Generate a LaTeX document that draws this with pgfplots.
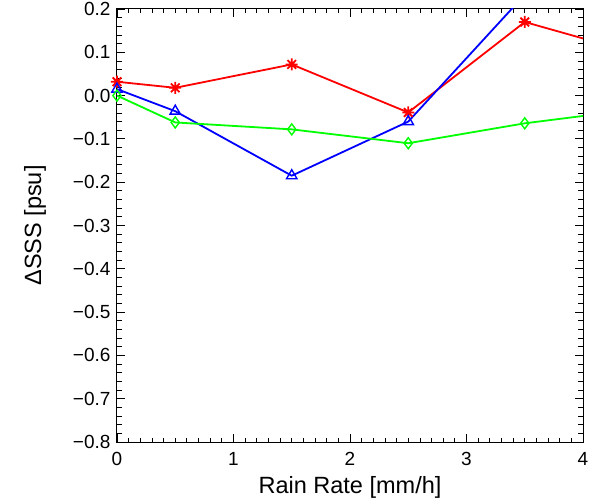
\documentclass[border=0pt]{standalone}
\usepackage{fontspec}
\setmainfont{Liberation Sans}
\usepackage{pgfplots}
\pgfplotsset{compat=1.18}
\pgfdeclareplotmark{idlstar}{%
  \pgfpathmoveto{\pgfqpoint{-\pgfplotmarksize}{0pt}}\pgfpathlineto{\pgfqpoint{\pgfplotmarksize}{0pt}}%
  \pgfpathmoveto{\pgfqpoint{0pt}{-\pgfplotmarksize}}\pgfpathlineto{\pgfqpoint{0pt}{\pgfplotmarksize}}%
  \pgfpathmoveto{\pgfqpoint{-0.72\pgfplotmarksize}{-0.72\pgfplotmarksize}}\pgfpathlineto{\pgfqpoint{0.72\pgfplotmarksize}{0.72\pgfplotmarksize}}%
  \pgfpathmoveto{\pgfqpoint{-0.72\pgfplotmarksize}{0.72\pgfplotmarksize}}\pgfpathlineto{\pgfqpoint{0.72\pgfplotmarksize}{-0.72\pgfplotmarksize}}%
  \pgfusepathqstroke}
\begin{document}
\begin{tikzpicture}[x=1pt,y=1pt]
\path[use as bounding box] (0,0) rectangle (595,501);
\begin{axis}[at={(117pt,59pt)}, anchor=south west, scale only axis,
  width=466pt, height=433pt,
  xmin=0, xmax=4, ymin=-0.8, ymax=0.2,
  xtick={0,1,2,3,4}, xticklabels={0,1,2,3,4},
  minor x tick num=9,
  ytick={-0.8,-0.7,-0.6,-0.5,-0.4,-0.3,-0.2,-0.1,0,0.1,0.2},
  yticklabels={−0.8,−0.7,−0.6,−0.5,−0.4,−0.3,−0.2,−0.1,0.0,0.1,0.2},
  minor y tick num=4,
  tick align=inside,
  major tick length=8pt, minor tick length=4.5pt,
  tick style={black, line width=0.8pt},
  axis line style={line width=1pt},
  every tick label/.append style={font=\fontsize{19}{22}\selectfont},
  xticklabel style={yshift=-6.5pt},
  yticklabel style={xshift=-3pt},
  xlabel={Rain Rate [mm/h]}, ylabel={ΔSSS [psu]},
  label style={font=\fontsize{23.5}{28}\selectfont},
  xlabel style={at={(axis description cs:0.5,-0.1039)}, anchor=center},
  ylabel style={at={(axis description cs:-0.176,0.5)}, anchor=center, rotate=0},
  clip=true,
]
\addplot[red, line width=1.8pt, mark=idlstar, mark size=6pt, mark options={line width=1.8pt}]
  coordinates {(0,0.032) (0.5,0.018) (1.5,0.072) (2.5,-0.039) (3.5,0.170) (4.5,0.094)};
\addplot[blue, line width=1.8pt, mark=triangle, mark size=6pt, mark options={line width=1.4pt}]
  coordinates {(0,0.015) (0.5,-0.036) (1.5,-0.185) (2.5,-0.060) (3.5,0.233)};
\addplot[green, line width=1.8pt, mark=diamond, mark size=5.5pt, mark options={line width=1.4pt}]
  coordinates {(0,0.0) (0.5,-0.062) (1.5,-0.078) (2.5,-0.110) (3.5,-0.064) (4.5,-0.030)};
\end{axis}
\end{tikzpicture}
\end{document}
